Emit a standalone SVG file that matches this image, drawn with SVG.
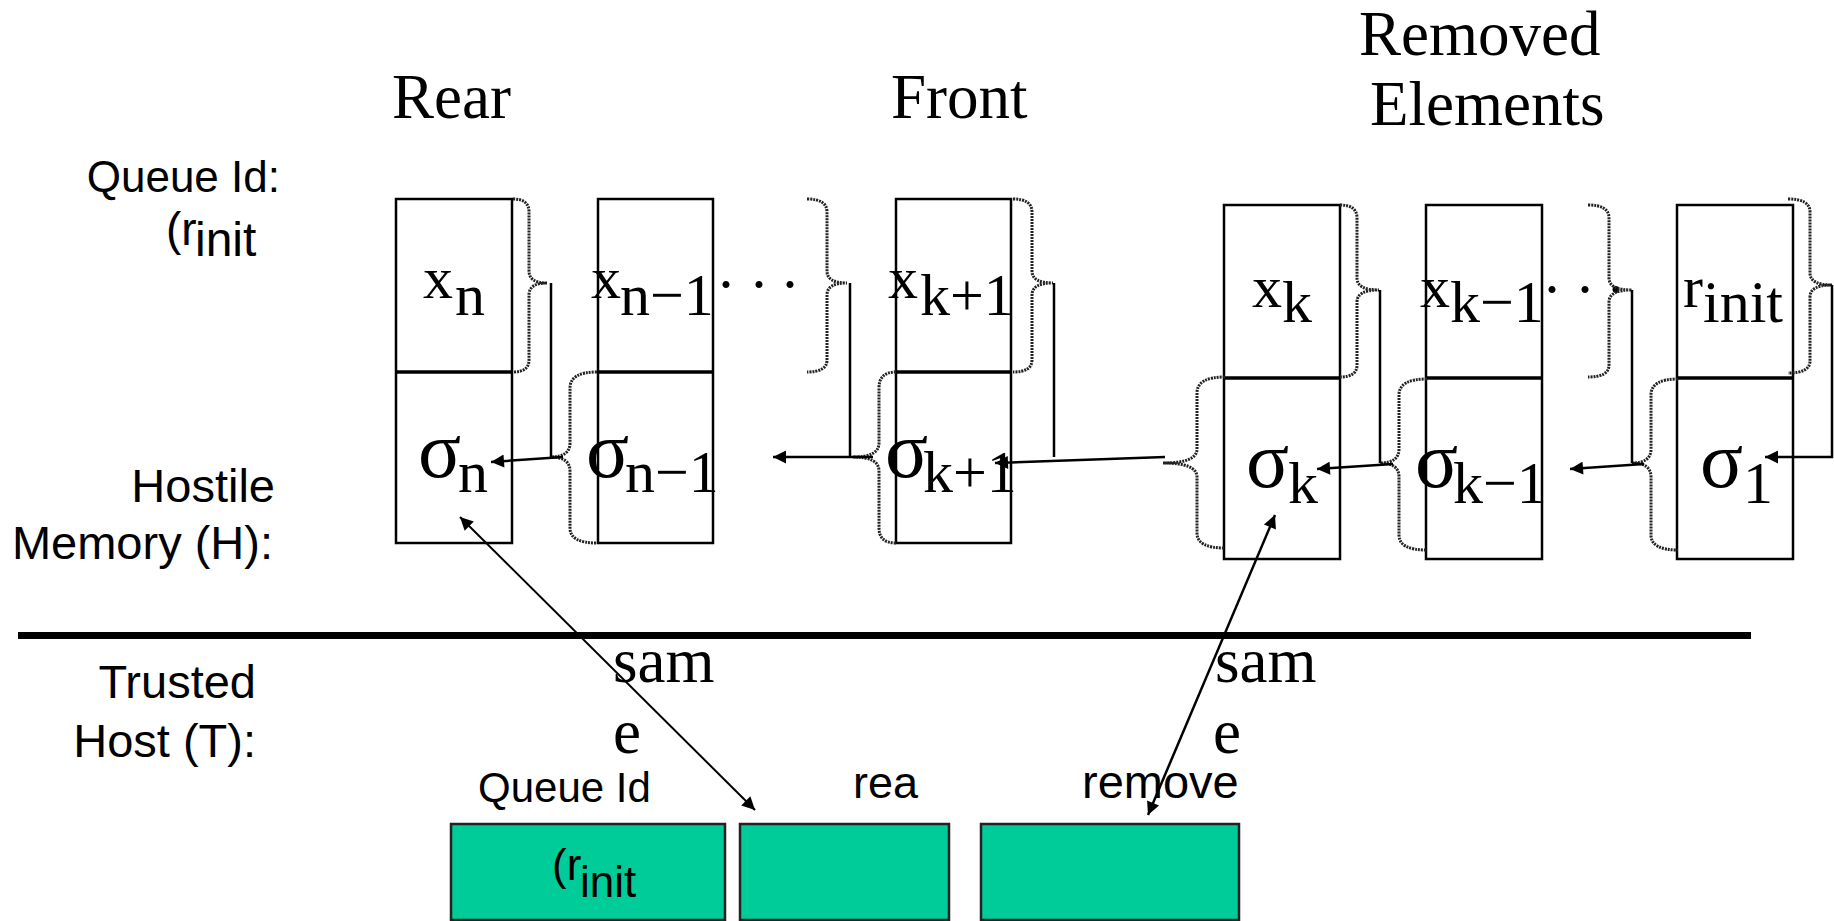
<svg xmlns="http://www.w3.org/2000/svg" width="1834" height="921" viewBox="0 0 1834 921">
<style>
.bx{fill:#fff;stroke:#000;stroke-width:2.5}
.dv{stroke:#000;stroke-width:3.5}
.m{font-family:"Liberation Serif","Times New Roman",serif;font-size:60px;fill:#000}
.sg{font-family:"Liberation Serif","Times New Roman",serif;font-size:80px;fill:#000}
.t{font-family:"Liberation Serif","Times New Roman",serif;font-size:63px;fill:#000}
.s{font-family:"Liberation Sans",Arial,sans-serif;fill:#000}
.br{fill:none;stroke:#222;stroke-width:3;stroke-dasharray:2 1}
.ln{fill:none;stroke:#000;stroke-width:2.5}
.ar{fill:none;stroke:#000;stroke-width:2.5;marker-end:url(#ah)}
.gb{fill:#00CC99;stroke:#222;stroke-width:2.5}
</style>
<defs>
<marker id="ah" viewBox="0 0 10 10" refX="10" refY="5" markerWidth="18" markerHeight="13" markerUnits="userSpaceOnUse" orient="auto-start-reverse"><path d="M0,0 L10,5 L0,10 z" fill="#000"/></marker>
</defs>

<g id="titles">
<text class="t" x="392" y="118">Rear</text>
<text class="t" x="891" y="118">Front</text>
<text class="t" x="1359" y="55">Removed</text>
<text class="t" x="1370" y="125">Elements</text>
</g>

<g id="left-labels">
<text class="s" font-size="44" x="280" y="192" text-anchor="end">Queue Id:</text>
<text class="s" font-size="46" x="166" y="245">(r</text>
<text class="s" font-size="48" x="195" y="256">init</text>
<text class="s" font-size="47" x="275" y="502" text-anchor="end">Hostile</text>
<text class="s" font-size="47" x="273" y="559" text-anchor="end">Memory (H):</text>
<text class="s" font-size="47" x="256" y="698" text-anchor="end">Trusted</text>
<text class="s" font-size="47" x="256" y="757" text-anchor="end">Host (T):</text>
</g>

<line id="separator" x1="18" y1="635.5" x2="1751" y2="635.5" stroke="#000" stroke-width="7"/>

<g id="node-n">
<rect class="bx" x="396" y="199" width="116" height="344"/>
<line class="dv" x1="396" y1="372" x2="512" y2="372"/>
<text class="m" x="423" y="298">x</text><text class="m" x="455" y="315">n</text>
<text class="sg" x="418" y="477">σ</text><text class="m" x="458" y="492">n</text>
</g>

<g id="node-n-1">
<rect class="bx" x="598" y="199" width="115" height="344"/>
<line class="dv" x1="598" y1="372" x2="713" y2="372"/>
<text class="m" x="591" y="298">x</text><text class="m" x="620" y="315">n−1</text>
<text class="sg" x="586" y="477">σ</text><text class="m" x="625" y="492">n−1</text>
<text class="m" x="716" y="304">·</text><text class="m" x="749" y="304">·</text><text class="m" x="780" y="304">·</text>
</g>

<g id="node-k+1">
<rect class="bx" x="896" y="199" width="115" height="344"/>
<line class="dv" x1="896" y1="372" x2="1011" y2="372"/>
<text class="m" x="888" y="298">x</text><text class="m" x="920" y="315">k+1</text>
<text class="sg" x="885" y="477">σ</text><text class="m" x="923" y="492">k+1</text>
</g>

<g id="node-k">
<rect class="bx" x="1224" y="205" width="116" height="354"/>
<line class="dv" x1="1224" y1="378" x2="1340" y2="378"/>
<text class="m" x="1252" y="307">x</text><text class="m" x="1282" y="322">k</text>
<text class="sg" x="1246" y="487">σ</text><text class="m" x="1288" y="503">k</text>
</g>

<g id="node-k-1">
<rect class="bx" x="1426" y="205" width="116" height="354"/>
<line class="dv" x1="1426" y1="378" x2="1542" y2="378"/>
<text class="m" x="1420" y="307">x</text><text class="m" x="1450" y="322">k−1</text>
<text class="sg" x="1415" y="487">σ</text><text class="m" x="1453" y="503">k−1</text>
<text class="m" x="1542" y="309">·</text><text class="m" x="1575" y="309">·</text><text class="m" x="1606" y="309">·</text>
</g>

<g id="node-1">
<rect class="bx" x="1677" y="205" width="116" height="354"/>
<line class="dv" x1="1677" y1="378" x2="1793" y2="378"/>
<text class="m" x="1683" y="307">r</text><text class="m" x="1703" y="322">init</text>
<text class="sg" x="1700" y="487">σ</text><text class="m" x="1743" y="503">1</text>
</g>

<g id="braces">
<path class="br" d="M513,199 Q529,199 529,212 L529,271 Q529,283 547,283 Q529,283 529,295 L529,360 Q529,372 513,372"/>
<path class="br" d="M807,199 Q827,199 827,212 L827,271 Q827,283 847,283 Q827,283 827,295 L827,360 Q827,372 807,372"/>
<path class="br" d="M1013,199 Q1032,199 1032,212 L1032,271 Q1032,283 1053,283 Q1032,283 1032,295 L1032,360 Q1032,372 1013,372"/>
<path class="br" d="M1340,205 Q1357,205 1357,218 L1357,278 Q1357,290 1379,290 Q1357,290 1357,302 L1357,365 Q1357,377 1340,377"/>
<path class="br" d="M1588,205 Q1609,205 1609,218 L1609,278 Q1609,290 1632,290 Q1609,290 1609,302 L1609,365 Q1609,377 1588,377"/>
<path class="br" d="M1788,199 Q1810,199 1810,212 L1810,273 Q1810,285 1832,285 Q1810,285 1810,297 L1810,361 Q1810,373 1788,373"/>
<path class="br" d="M597,372 Q570,372 570,388 L570,443 Q570,457 550,457 Q570,457 570,471 L570,528 Q570,543 597,543"/>
<path class="br" d="M896,372 Q879,372 879,388 L879,443 Q879,457 853,457 Q879,457 879,471 L879,528 Q879,543 896,543"/>
<path class="br" d="M1225,377 Q1197,377 1197,393 L1197,449 Q1197,463 1163,463 Q1197,463 1197,477 L1197,533 Q1197,548 1225,548"/>
<path class="br" d="M1427,379 Q1399,379 1399,395 L1399,449 Q1399,463 1380,463 Q1399,463 1399,477 L1399,535 Q1399,550 1427,550"/>
<path class="br" d="M1678,379 Q1651,379 1651,395 L1651,449 Q1651,463 1632,463 Q1651,463 1651,477 L1651,535 Q1651,550 1678,550"/>
</g>

<g id="connectors">
<line class="ln" x1="551" y1="283" x2="551" y2="457"/>
<line class="ar" x1="563" y1="457" x2="491" y2="462"/>
<line class="ln" x1="850" y1="283" x2="850" y2="457"/>
<line class="ar" x1="873" y1="457" x2="773" y2="457"/>
<line class="ln" x1="1054" y1="283" x2="1054" y2="457"/>
<line class="ar" x1="1165" y1="457" x2="995" y2="463"/>
<line class="ln" x1="1380" y1="290" x2="1380" y2="463"/>
<line class="ar" x1="1393" y1="464" x2="1317" y2="469"/>
<line class="ln" x1="1632" y1="290" x2="1632" y2="463"/>
<line class="ar" x1="1644" y1="464" x2="1570" y2="469"/>
<path class="ar" d="M1832,285 L1832,457 L1765,457"/>
<line x1="460" y1="517" x2="755" y2="810" stroke="#000" stroke-width="2" marker-start="url(#ah)" marker-end="url(#ah)"/>
<line x1="1275" y1="515" x2="1148" y2="815" stroke="#000" stroke-width="2.5" marker-start="url(#ah)" marker-end="url(#ah)"/>
</g>

<g id="trusted-labels">
<text class="t" x="613" y="682">sam</text>
<text class="t" x="613" y="753">e</text>
<text class="t" x="1215" y="682">sam</text>
<text class="t" x="1213" y="753">e</text>
<text class="s" font-size="42" x="478" y="802">Queue Id</text>
<text class="s" font-size="45" x="853" y="798">rea</text>
<text class="s" font-size="47" x="1082" y="798">remove</text>
</g>

<g id="trusted-queue-id">
<rect class="gb" x="451" y="824" width="274" height="96"/>
<text class="s" font-size="44" x="552" y="880">(r</text>
<text class="s" font-size="44" x="580" y="897">init</text>
</g>
<g id="trusted-rear">
<rect class="gb" x="740" y="824" width="209" height="96"/>
</g>
<g id="trusted-remove">
<rect class="gb" x="981" y="824" width="258" height="96"/>
</g>
</svg>
